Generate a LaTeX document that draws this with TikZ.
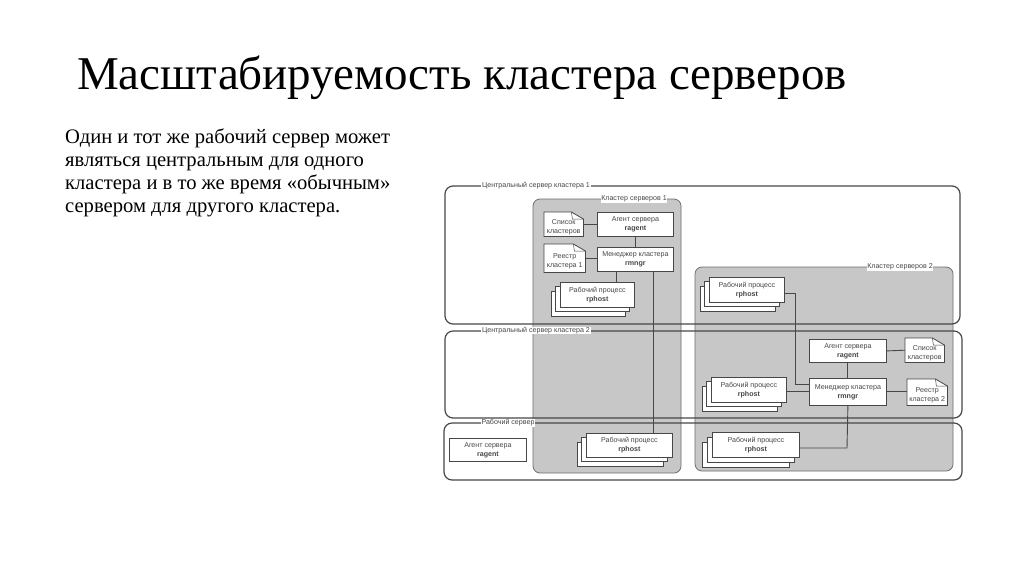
\documentclass[tikz,border=0pt]{standalone}
\usepackage{fontspec}
\setmainfont{Liberation Serif}
\setsansfont{Liberation Sans}
\usetikzlibrary{calc}
\definecolor{clusterfill}{gray}{0.78}
\definecolor{inkline}{gray}{0.28}
\tikzset{
  server/.style={draw=inkline,line width=1.2pt,rounded corners=8pt},
  cluster/.style={draw=inkline!70!clusterfill,line width=0.8pt,fill=clusterfill,rounded corners=7pt},
  frametext/.style={font=\sffamily\fontsize{7.1}{8}\selectfont,text=black!72,fill=white,inner sep=0.6pt},
  boxtext/.style={font=\sffamily\fontsize{7.1}{9}\selectfont,text=black!72,align=center,inner sep=0pt},
  procbox/.style={boxtext,draw=inkline,line width=0.8pt,fill=white,anchor=north west},
  backbox/.style={draw=inkline,line width=0.8pt,fill=white},
  docbox/.style={inner sep=0pt,anchor=north west},
  docline/.style={draw=inkline,line width=0.8pt,fill=white},
  link/.style={draw=inkline,line width=0.9pt},
}
% #1 name, #2 left, #3 top, #4 width, #5 height, #6 offset of the back sheets
\newcommand{\procstack}[6]{
  \foreach \d in {2,1}
    \draw[backbox] ({#2-\d*#6},{-#3-\d*#6}) rectangle ++(#4,-#5);
  \node[procbox,minimum width=#4,minimum height=#5] (#1) at (#2,-#3) {Рабочий процесс\\\textbf{rphost}};
}
% #1 name, #2 left, #3 top, #4 width, #5 height, #6 text
\newcommand{\docnote}[6]{
  \node[docbox,minimum width=#4,minimum height=#5] (#1) at (#2,-#3) {};
  \draw[docline] (#1.north west) -- ($(#1.north east)+(-12,0)$) -- ($(#1.north east)+(0,-7)$) -- (#1.south east) -- (#1.south west) -- cycle;
  \draw[link,line width=0.5pt] ($(#1.north east)+(-12,0)$) -- ($(#1.north east)+(-11,-7)$) -- ($(#1.north east)+(0,-7)$);
  \node[boxtext] (#1text) at ($(#1.center)+(0,-3)$) {#6};
}
\begin{document}
\begin{tikzpicture}[x=1pt,y=1pt]
  \useasboundingbox (0,0) rectangle (1024,-574);
  \fill[white] (0,0) rectangle (1024,-574);
  \node[anchor=base west,inner sep=0pt,font=\fontsize{47}{50}\selectfont] (title) at (77,-89) {Масштабируемость кластера серверов};
  \node[anchor=base west,inner sep=0pt,align=left,font=\fontsize{20.6}{23}\selectfont] (body) at (65,-212) {Один и тот же рабочий сервер может\\являться центральным для одного\\кластера и в то же время «обычным»\\сервером для другого кластера.};
  % clusters
  \draw[cluster] (533,-199) rectangle (681,-473);
  \draw[cluster] (695,-267) rectangle (953,-471);
  % servers
  \draw[server] (445,-186) rectangle (960,-324);
  \draw[server] (445,-331) rectangle (962,-418);
  \draw[server] (444,-423) rectangle (962,-480);
  \node[frametext] (srvone) at (536,-186) {Центральный сервер кластера 1};
  \node[frametext] (srvtwo) at (536,-330.5) {Центральный сервер кластера 2};
  \node[frametext] (srvwork) at (508,-423) {Рабочий сервер};
  \node[frametext] (clone) at (634,-199) {Кластер серверов 1};
  \node[frametext] (cltwo) at (900,-267) {Кластер серверов 2};
  % cluster 1
  \node[procbox,minimum width=76,minimum height=24] (agentone) at (597,-212) {Агент сервера\\\textbf{ragent}};
  \node[procbox,minimum width=76,minimum height=24] (mgrone) at (597,-247) {Менеджер кластера\\\textbf{rmngr}};
  \docnote{listone}{544}{212}{39}{24}{Список\\кластеров}
  \docnote{regone}{544}{244}{41}{28}{Реестр\\кластера 1}
  \procstack{procone}{560}{282}{74}{25}{4.5}
  \procstack{procthree}{586}{433}{86}{24}{4.5}
  \coordinate (mgronelow) at (616,-271);
  \coordinate (mgronefar) at (653,-271);
  \draw[link] (listone.east) -- (agentone.west |- listone.east);
  \draw[link] (regone.east) -- (mgrone.west |- regone.east);
  \draw[link] (agentone.south -| 635,0) -- (mgrone.north -| 635,0);
  \draw[link] (mgronelow) -- (mgronelow |- procone.north);
  \draw[link] (mgronefar) -- (mgronefar |- procthree.north);
  % cluster 2
  \node[procbox,minimum width=77,minimum height=23] (agenttwo) at (809,-339) {Агент сервера\\\textbf{ragent}};
  \node[procbox,minimum width=77,minimum height=27] (mgrtwo) at (809,-378) {Менеджер кластера\\\textbf{rmngr}};
  \docnote{listtwo}{905}{338}{39}{24}{Список\\кластеров}
  \docnote{regtwo}{907}{379}{40}{26}{Реестр\\кластера 2}
  \procstack{proctop}{709}{277}{75}{25}{4.5}
  \procstack{procmid}{711}{377}{75}{25}{4.5}
  \procstack{procbot}{712}{432}{87}{25}{5}
  \coordinate (bendtop) at (795,-293);
  \coordinate (bendlow) at (795,-384);
  \coordinate (bendbot) at (847,-448);
  \draw[link] (agenttwo.east) -- (listtwo.west);
  \draw[link] (agenttwo.south) -- (mgrtwo.north);
  \draw[link] (mgrtwo.east) -- (regtwo.west |- mgrtwo.east);
  \draw[link] (procmid.east |- mgrtwo.west) -- (mgrtwo.west);
  \draw[link] (proctop.east |- bendtop) -- (bendtop) -- (bendlow) -- (mgrtwo.west |- bendlow);
  \draw[link] (mgrtwo.south) -- (bendbot) -- (procbot.east |- bendbot);
  % plain worker agent
  \node[procbox,minimum width=77,minimum height=23] (agentwork) at (449,-438) {Агент сервера\\\textbf{ragent}};
\end{tikzpicture}
\end{document}
